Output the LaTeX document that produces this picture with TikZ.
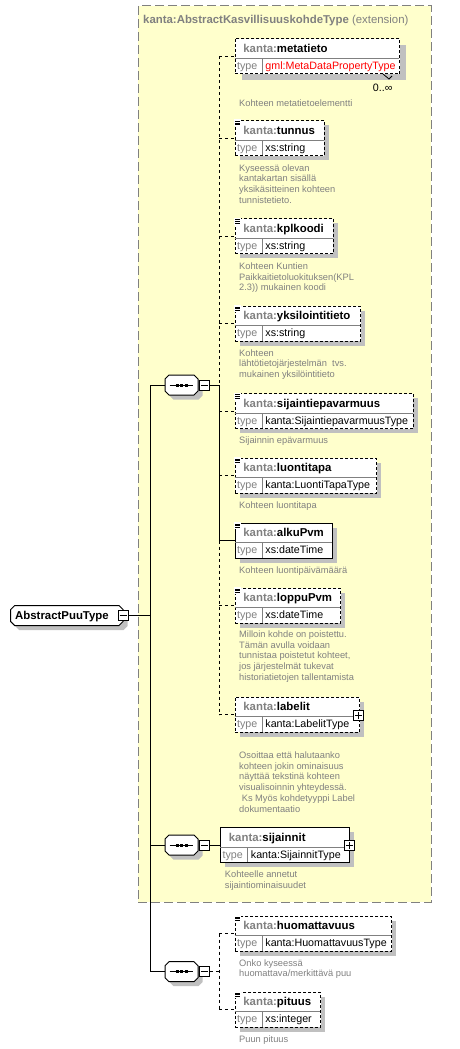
\documentclass[tikz,border=0pt]{standalone}
\usepackage{fontspec}
\setmainfont{Liberation Sans}
\usetikzlibrary{calc}
\definecolor{ybg}{RGB}{255,255,204}
\definecolor{kgray}{RGB}{128,128,128}
\definecolor{shad}{RGB}{192,192,192}
\tikzset{
 hdr/.style={anchor=base west, inner sep=0, font=\fontsize{11.4}{13}\selectfont\bfseries},
 typ/.style={anchor=base west, inner sep=0, font=\fontsize{10.7}{12}\selectfont},
 desc/.style={anchor=base west, inner sep=0, align=left, text=kgray, font=\fontsize{9.3}{10.7}\selectfont},
 ebox/.style={draw=black, fill=white, anchor=north west, inner sep=0, minimum height=35pt, line width=1pt},
 opt/.style={dash pattern=on 3pt off 2pt},
 solid/.style={},
 conn/.style={line width=1pt},
 optconn/.style={line width=1pt, dash pattern=on 3pt off 3pt},
 pmbox/.style={draw=black, fill=white, minimum size=10pt, inner sep=0, line width=1pt},
}
\newcommand\xsdelem[8][5]{%
 \fill[shad] (#3+#1,#4+#1) rectangle ++(#5,35);
 \node[ebox,#8,minimum width=#5pt] (#2) at (#3,#4) {};
 \draw[kgray,line width=1pt] (#3,#4+20) -- ++(#5,0) (#3+27.5,#4+20) -- ++(0,15);
 \node[hdr] (#2-h) at (#3+8.7,#4+14) {\textcolor{kgray}{kanta:}#6};
 \node[typ,text=kgray] (#2-k) at (#3+2.4,#4+31) {type};
 \node[typ] (#2-t) at (#3+30.7,#4+31) {#7};
}
\newcommand\docicon[1]{%
 \fill[white] ([shift={(-0.6pt,0.6pt)}]#1.north west) rectangle ++(7,7);
 \draw[line width=0.7pt] ([shift={(0.5pt,-1.2pt)}]#1.north west) -- ++(5,0)
  ([shift={(0.5pt,-3.0pt)}]#1.north west) -- ++(5,0)
  ([shift={(0.5pt,-4.8pt)}]#1.north west) -- ++(5,0);
}
% octagon: name, left, top, width, height
\newcommand\octa[5]{%
 \begin{scope}[shift={(#2,#3)}]
  \fill[shad] (8.5,4.5) -- (#4+0.5,4.5) -- (#4+4.5,8.5) -- (#4+4.5,#5+0.5) -- (#4+0.5,#5+4.5) -- (8.5,#5+4.5) -- (4.5,#5+0.5) -- (4.5,8.5) -- cycle;
  \draw[fill=white,line width=1pt] (4,0) -- (#4-4,0) -- (#4,4) -- (#4,#5-4) -- (#4-4,#5) -- (4,#5) -- (0,#5-4) -- (0,4) -- cycle;
  \node[inner sep=0, minimum width=#4pt, minimum height=#5pt, anchor=north west] (#1) at (0,0) {};
 \end{scope}
}
\newcommand\seqsym[1]{%
 \draw[line width=1pt] ([xshift=4.5pt]#1.west) -- ([xshift=-5.5pt]#1.east);
 \fill ([xshift=-6pt]#1.center) ++(0,-1.5) rectangle ++(3,3);
 \fill ([xshift=-1.5pt]#1.center) ++(0,-1.5) rectangle ++(3,3);
 \fill ([xshift=3pt]#1.center) ++(0,-1.5) rectangle ++(3,3);
}
\newcommand\minusin[1]{\draw[line width=1pt] ([xshift=2pt]#1.west) -- ([xshift=-2pt]#1.east);}
\newcommand\plusin[1]{\draw[line width=1pt] ([xshift=2pt]#1.west) -- ([xshift=-2pt]#1.east) ([yshift=2pt]#1.south) -- ([yshift=-2pt]#1.north);}
\begin{document}
\begin{tikzpicture}[x=1pt,y=-1pt]
\useasboundingbox (0,0) rectangle (459,1049);
% extension container
\node[draw=kgray, fill=ybg, dash pattern=on 9pt off 4pt, line width=1pt, inner sep=0, anchor=north west, minimum width=292.8pt, minimum height=896.2pt] (ext) at (137.7,5.3) {};
\node[anchor=base west, inner sep=0, text=kgray, font=\fontsize{11.4}{13}\selectfont] (exttitle) at (143,23.8) {\textbf{kanta:AbstractKasvillisuuskohdeType} (extension)};

% coordinates for buses
\coordinate (trunk) at (150.7,0);
\coordinate (bus1) at (219.3,0);
\coordinate (bus3) at (219.3,0);

% elements
\xsdelem[7]{metatieto}{234.5}{38.3}{164.7}{metatieto}{\textcolor{red}{gml:MetaDataPropertyType}}{opt}
\xsdelem{tunnus}{234.5}{120}{89.4}{tunnus}{xs:string}{opt}
\xsdelem{kplkoodi}{234.5}{218.3}{98.4}{kplkoodi}{xs:string}{opt}
\xsdelem{yksilointitieto}{234.5}{305.7}{125.7}{yksilointitieto}{xs:string}{opt}
\xsdelem{sijaintiepavarmuus}{234.5}{393.3}{178.4}{sijaintiepavarmuus}{kanta:SijaintiepavarmuusType}{opt}
\xsdelem{luontitapa}{234.5}{457.7}{141.7}{luontitapa}{kanta:LuontiTapaType}{opt}
\xsdelem{alkuPvm}{234.5}{522.7}{97.4}{alkuPvm}{xs:dateTime}{solid}
\xsdelem{loppuPvm}{234.5}{587.7}{105.7}{loppuPvm}{xs:dateTime}{opt}
\xsdelem{labelit}{234.5}{696.7}{124.7}{labelit}{kanta:LabelitType}{opt}
\xsdelem{sijainnit}{220}{827.3}{129.3}{sijainnit}{kanta:SijainnitType}{solid}
\xsdelem{huomattavuus}{234.5}{915.7}{156.7}{huomattavuus}{kanta:HuomattavuusType}{opt}
\xsdelem{pituus}{234.5}{991.7}{85.7}{pituus}{xs:integer}{opt}

\docicon{tunnus}
\docicon{kplkoodi}
\docicon{yksilointitieto}
\docicon{sijaintiepavarmuus}
\docicon{luontitapa}
\docicon{alkuPvm}
\docicon{loppuPvm}
\docicon{huomattavuus}
\docicon{pituus}

% multiplicity
\draw[line width=0.8pt] (383,74) -- (389,79) -- (392,76);
\node[anchor=base west, inner sep=0, font=\fontsize{10.7}{12}\selectfont] (mult) at (372.7,91) {0..∞};

% plus boxes
\node[pmbox] (labelitp) at (358.3,715) {};
\plusin{labelitp}
\node[pmbox] (sijainnitp) at (349.3,845.5) {};
\plusin{sijainnitp}

% descriptions (base anchor = baseline of last line)
\node[desc] (d1) at (239,106) {Kohteen metatietoelementti};
\node[desc] (d2) at (239,203.1) {Kyseessä olevan\\kantakartan sisällä\\yksikäsitteinen kohteen\\tunnistetieto.};
\node[desc] (d3) at (239,290.9) {Kohteen Kuntien\\Paikkaitietoluokituksen(KPL\\2.3)) mukainen koodi};
\node[desc] (d4) at (239,377.4) {Kohteen\\lähtötietojärjestelmän\ \ tvs.\\mukainen yksilöintitieto};
\node[desc] (d5) at (239,443) {Sijainnin epävarmuus};
\node[desc] (d6) at (239,508) {Kohteen luontitapa};
\node[desc] (d7) at (239,573) {Kohteen luontipäivämäärä};
\node[desc] (d8) at (239,680.3) {Milloin kohde on poistettu.\\Tämän avulla voidaan\\tunnistaa poistetut kohteet,\\jos järjestelmät tukevat\\historiatietojen tallentamista};
\node[desc] (d9) at (239,812) {Osoittaa että halutaanko\\kohteen jokin ominaisuus\\näyttää tekstinä kohteen\\visualisoinnin yhteydessä.\\\hspace*{2.6pt}Ks Myös kohdetyyppi Label\\dokumentaatio};
\node[desc] (d10) at (224.7,888.2) {Kohteelle annetut\\sijaintiominaisuudet};
\node[desc] (d11) at (239,976.7) {Onko kyseessä\\huomattava/merkittävä puu};
\node[desc] (d12) at (239,1042) {Puun pituus};

% compositors
\octa{root}{10.7}{605.5}{112.3}{20}
\node[anchor=base west, inner sep=0, font=\fontsize{11.4}{13}\selectfont\bfseries] (rootlabel) at (15,619.5) {AbstractPuuType};
\node[pmbox] (rootm) at (123,615.5) {};
\minusin{rootm}

\octa{seq1}{165}{375}{33}{20}
\seqsym{seq1}
\node[pmbox] (seq1m) at (204.3,385) {};
\minusin{seq1m}

\octa{seq2}{165}{835}{33}{20}
\seqsym{seq2}
\node[pmbox] (seq2m) at (204.3,845) {};
\minusin{seq2m}

\octa{seq3}{165}{961.7}{33}{20}
\seqsym{seq3}
\node[pmbox] (seq3m) at (204.3,971.7) {};
\minusin{seq3m}

% connectors
\draw[conn] (rootm.east) -- (rootm.east -| trunk);
\draw[conn] (trunk |- seq1.west) -- (trunk |- seq3.west);
\draw[conn] (trunk |- seq1.west) -- (seq1.west);
\draw[conn] (trunk |- seq2.west) -- (seq2.west);
\draw[conn] (trunk |- seq3.west) -- (seq3.west);

\draw[conn] (seq1m.east) -- (bus1 |- seq1m.east);
\draw[optconn] (bus1 |- metatieto.west) -- (bus1 |- seq1m.east);
\draw[conn] (bus1 |- seq1m.east) -- (bus1 |- alkuPvm.west);
\draw[optconn] (bus1 |- alkuPvm.west) -- (bus1 |- labelit.west);
\foreach \e in {metatieto,tunnus,kplkoodi,yksilointitieto,sijaintiepavarmuus,luontitapa,loppuPvm,labelit}
 {\draw[optconn] (bus1 |- \e.west) -- (\e.west);}
\draw[conn] (bus1 |- alkuPvm.west) -- (alkuPvm.west);

\draw[conn] (seq2m.east) -- (sijainnit.west -| seq2m.east) -- (sijainnit.west);

\draw[optconn] (seq3m.east) -- (bus3 |- seq3m.east);
\draw[optconn] (bus3 |- huomattavuus.west) -- (bus3 |- pituus.west);
\draw[optconn] (bus3 |- huomattavuus.west) -- (huomattavuus.west);
\draw[optconn] (bus3 |- pituus.west) -- (pituus.west);
\end{tikzpicture}
\end{document}
